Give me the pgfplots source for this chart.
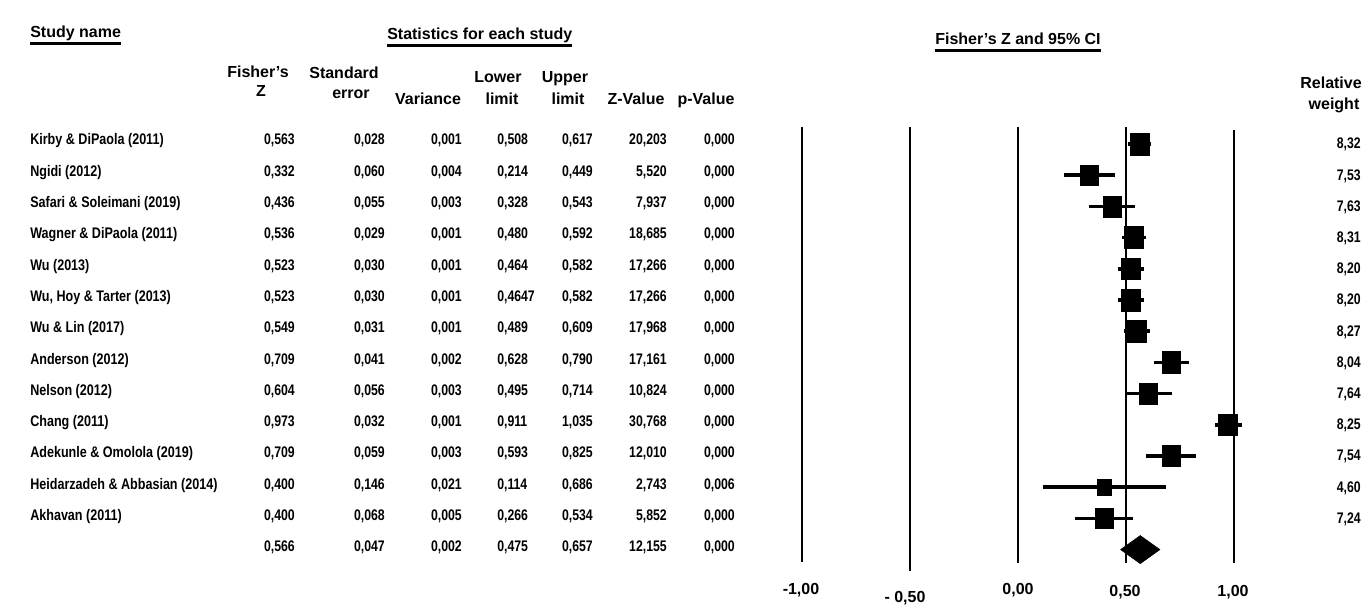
\documentclass[border=0pt]{standalone}
\usepackage{pgfplots}
\pgfplotsset{compat=1.18}
\usepackage{pgfplotstable}
\usepackage{fontspec}
\setmainfont{Liberation Sans}
\newfontfamily\nmfam[FakeStretch=0.82]{Liberation Sans}
\newfontfamily\numfam[FakeStretch=0.8]{Liberation Sans}
\newcommand\nmf{\nmfam\bfseries\fontsize{11.5}{13}\selectfont}
\newcommand\numf{\numfam\bfseries\fontsize{11.5}{13}\selectfont}
\newcommand\hdf{\bfseries\fontsize{12}{14}\selectfont}

\pgfplotstableread{
i  z     lo     hi    ms
0  0.563 0.508  0.617 7.10
1  0.332 0.214  0.449 6.75
2  0.436 0.328  0.543 6.80
3  0.536 0.480  0.592 7.10
4  0.523 0.464  0.582 7.05
5  0.523 0.4647 0.582 7.05
6  0.549 0.489  0.609 7.08
7  0.709 0.628  0.790 6.98
8  0.604 0.495  0.714 6.80
9  0.973 0.911  1.035 7.08
10 0.709 0.593  0.825 6.76
11 0.400 0.114  0.686 5.28
12 0.400 0.266  0.534 6.62
}\data

% y(baseline px), name, Z, SE, Var, Lower, Upper, Z-value, p
\newcommand\Row[9]{%
\node[anchor=base west,inner sep=0,font=\nmf] at (30,#1) {#2};
\node[anchor=base east,inner sep=0,font=\numf] at (295,#1) {#3};
\node[anchor=base east,inner sep=0,font=\numf] at (385,#1) {#4};
\node[anchor=base east,inner sep=0,font=\numf] at (462,#1) {#5};
\node[anchor=base west,inner sep=0,font=\numf] at (497,#1) {#6};
\node[anchor=base east,inner sep=0,font=\numf] at (593,#1) {#7};
\node[anchor=base east,inner sep=0,font=\numf] at (667,#1) {#8};
\node[anchor=base east,inner sep=0,font=\numf] at (735,#1) {#9};}

\begin{document}
\begin{tikzpicture}
\useasboundingbox (0,0) rectangle (1023.75pt,-456.75pt);
\begin{axis}[
  at={(585.3pt,-84.6pt)}, anchor=north west,
  width=372.6pt, height=351pt, scale only axis,
  xmin=-1.1, xmax=1.2, ymin=-1, ymax=14, y dir=reverse,
  hide axis, clip=false]
% reference lines
\addplot[black, line width=2.2pt] coordinates {(-1,-0.55) (-1,13.4)};
\addplot[black, line width=2.2pt] coordinates {(-0.5,-0.55) (-0.5,13.7)};
\addplot[black, line width=2.2pt] coordinates {(0,-0.55) (0,13.43)};
\addplot[black, line width=2.2pt] coordinates {(0.5,-0.55) (0.5,13.43)};
\addplot[black, line width=2.2pt] coordinates {(1,-0.45) (1,13.43)};
% confidence intervals
\addplot[draw=none, mark=none,
  error bars/.cd, x dir=both, x explicit, error mark=none,
  error bar style={draw=black, line width=2.7pt}]
  table[x=z, y=i, x error plus expr=\thisrow{hi}-\thisrow{z},
        x error minus expr=\thisrow{z}-\thisrow{lo}] {\data};
% squares
\addplot[scatter, only marks, mark=square*,
  scatter/use mapped color={draw=black, fill=black},
  mark options={yscale=1.15},
  visualization depends on={\thisrow{ms} \as \ms},
  scatter/@pre marker code/.append style={/tikz/mark size=\ms pt}]
  table[x=z, y=i] {\data};
% summary diamond
\addplot[fill=black, draw=black] coordinates
  {(0.475,13) (0.566,12.55) (0.657,13) (0.566,13.45)} -- cycle;
\end{axis}

\begin{scope}[x=0.75pt, y=-0.75pt]
% section headings
\node[anchor=base west, inner sep=0, font=\hdf] (sn) at (30,38) {Study name};
\draw[line width=2.2pt] ([yshift=-4pt]sn.base west) -- ([yshift=-4pt]sn.base east);
\node[anchor=base west, inner sep=0, font=\hdf] (st) at (387,40) {Statistics for each study};
\draw[line width=2.2pt] ([yshift=-4pt]st.base west) -- ([yshift=-4pt]st.base east);
\node[anchor=base, inner sep=0, font=\hdf] (fz) at (1018,45) {Fisher's Z and 95\% CI};
\draw[line width=2.2pt] ([yshift=-4pt]fz.base west) -- ([yshift=-4pt]fz.base east);
% column headings
\node[anchor=base, inner sep=0, font=\hdf] at (258,78) {Fisher's};
\node[anchor=base, inner sep=0, font=\hdf] at (261,97) {Z};
\node[anchor=base, inner sep=0, font=\hdf] at (344,79) {Standard};
\node[anchor=base, inner sep=0, font=\hdf] at (351,99) {error};
\node[anchor=base, inner sep=0, font=\hdf] at (428,105) {Variance};
\node[anchor=base, inner sep=0, font=\hdf] at (498,83) {Lower};
\node[anchor=base, inner sep=0, font=\hdf] at (502,105) {limit};
\node[anchor=base, inner sep=0, font=\hdf] at (565,83) {Upper};
\node[anchor=base, inner sep=0, font=\hdf] at (568,105) {limit};
\node[anchor=base, inner sep=0, font=\hdf] at (636,105) {Z-Value};
\node[anchor=base, inner sep=0, font=\hdf] at (706,105) {p-Value};
\node[anchor=base east, inner sep=0, font=\hdf] at (1362,89) {Relative};
\node[anchor=base, inner sep=0, font=\hdf] at (1334,110) {weight};
% table rows
\Row{145.0}{Kirby \& DiPaola (2011)}{0,563}{0,028}{0,001}{0,508}{0,617}{20,203}{0,000}
\Row{176.3}{Ngidi (2012)}{0,332}{0,060}{0,004}{0,214}{0,449}{5,520}{0,000}
\Row{207.6}{Safari \& Soleimani (2019)}{0,436}{0,055}{0,003}{0,328}{0,543}{7,937}{0,000}
\Row{238.9}{Wagner \& DiPaola (2011)}{0,536}{0,029}{0,001}{0,480}{0,592}{18,685}{0,000}
\Row{270.2}{Wu (2013)}{0,523}{0,030}{0,001}{0,464}{0,582}{17,266}{0,000}
\Row{301.5}{Wu, Hoy \& Tarter (2013)}{0,523}{0,030}{0,001}{0,4647}{0,582}{17,266}{0,000}
\Row{332.8}{Wu \& Lin (2017)}{0,549}{0,031}{0,001}{0,489}{0,609}{17,968}{0,000}
\Row{364.1}{Anderson (2012)}{0,709}{0,041}{0,002}{0,628}{0,790}{17,161}{0,000}
\Row{395.4}{Nelson (2012)}{0,604}{0,056}{0,003}{0,495}{0,714}{10,824}{0,000}
\Row{426.7}{Chang (2011)}{0,973}{0,032}{0,001}{0,911}{1,035}{30,768}{0,000}
\Row{458.0}{Adekunle \& Omolola (2019)}{0,709}{0,059}{0,003}{0,593}{0,825}{12,010}{0,000}
\Row{489.3}{Heidarzadeh \& Abbasian (2014)}{0,400}{0,146}{0,021}{0,114}{0,686}{2,743}{0,006}
\Row{520.6}{Akhavan (2011)}{0,400}{0,068}{0,005}{0,266}{0,534}{5,852}{0,000}
\Row{551.9}{}{0,566}{0,047}{0,002}{0,475}{0,657}{12,155}{0,000}
% relative weights
\foreach \w [count=\k from 0] in {8{,}32,7{,}53,7{,}63,8{,}31,8{,}20,8{,}20,8{,}27,8{,}04,7{,}64,8{,}25,7{,}54,4{,}60,7{,}24}
  \node[anchor=base east, inner sep=0, font=\numf] at (1361,149+31.2*\k) {\w};
% axis tick labels
\node[inner sep=0, font=\hdf] at (801,590) {-1,00};
\node[inner sep=0, font=\hdf] at (905,598) {- 0,50};
\node[inner sep=0, font=\hdf] at (1018,590) {0,00};
\node[inner sep=0, font=\hdf] at (1125,592) {0,50};
\node[inner sep=0, font=\hdf] at (1233,592) {1,00};
\end{scope}
\end{tikzpicture}
\end{document}
